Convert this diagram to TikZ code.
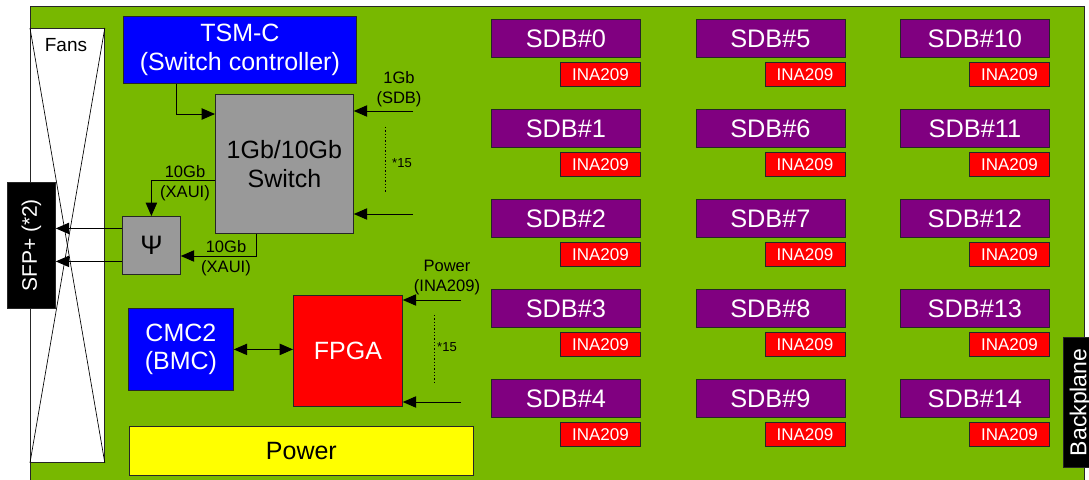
\documentclass[tikz,border=0pt]{standalone}
\usepackage{graphicx}
\usepackage{fontspec}
\setmainfont{Liberation Sans}
\usetikzlibrary{arrows.meta,calc}
\definecolor{boardgreen}{RGB}{120,184,0}
\definecolor{sdbpurple}{RGB}{128,0,128}
\definecolor{swgray}{RGB}{153,153,153}
\definecolor{tsmblue}{RGB}{0,0,255}
\definecolor{pwryellow}{RGB}{255,255,0}
\definecolor{inared}{RGB}{255,0,0}
\begin{document}
\begin{tikzpicture}[x=0.75pt,y=-0.75pt,
  blk/.style={draw=black!85,line width=0.6pt,inner sep=0pt,anchor=north west,align=center},
  bigf/.style={font=\fontsize{18.75}{21.5}\selectfont},
  sdbf/.style={font=\fontsize{19}{22}\selectfont},
  inaf/.style={font=\fontsize{12.75}{15}\selectfont},
  smallf/.style={font=\fontsize{12.4}{15}\selectfont,inner sep=0pt,align=center},
  tinyf/.style={font=\fontsize{9.75}{11}\selectfont,inner sep=0pt},
  sdbbox/.style={blk,fill=sdbpurple,text=white,sdbf,minimum width=111.75pt,minimum height=28.5pt},
  inabox/.style={blk,fill=inared,text=white,inaf,minimum width=60pt,minimum height=18pt},
  arr/.style={-{Triangle[length=10pt,width=8.5pt]},line width=0.75pt},
  darr/.style={{Triangle[length=10pt,width=8.5pt]}-{Triangle[length=10pt,width=8.5pt]},line width=0.75pt},
  dots/.style={line width=0.7pt,dash pattern=on 0.9pt off 1.6pt}
]
\useasboundingbox (0,0) rectangle (1089,479);
\begin{scope}
\clip (0,0) rectangle (1089,479);
% board
\node[blk,fill=boardgreen,minimum width=790.5pt,minimum height=370pt] (board) at (30,6) {};
% fans
\node[blk,fill=white,minimum width=55.5pt,minimum height=325.5pt] (fans) at (30,28) {};
\draw[line width=0.5pt] (fans.north west) -- (fans.south east);
\draw[line width=0.5pt] (fans.north east) -- (fans.south west);
\node[font=\fontsize{14.25}{17}\selectfont,inner sep=0pt] (fanslabel) at (66,45) {Fans};
% SFP
\node[blk,fill=black,text=white,font=\fontsize{15.75}{18}\selectfont,minimum width=36pt,minimum height=94.5pt] (sfp) at (7,182) {\rotatebox{90}{SFP+ (*2)}};
% backplane
\node[blk,fill=black,text=white,font=\fontsize{17.25}{20}\selectfont,minimum width=25.5pt,minimum height=97.5pt] (bp) at (1063,337) {\rotatebox{90}{Backplane}};
\end{scope}
% main blocks
\node[blk,fill=tsmblue,text=white,bigf,minimum width=174.75pt,minimum height=50.25pt] (tsm) at (123,16) {TSM-C\\(Switch controller)};
\node[blk,fill=swgray,bigf,minimum width=103.5pt,minimum height=104.25pt] (sw) at (215,94) {1Gb/10Gb\\Switch};
\node[blk,fill=swgray,font=\fontsize{20}{22}\selectfont,minimum width=43.5pt,minimum height=43.5pt] (psi) at (122,216) {Ψ};
\node[blk,fill=tsmblue,text=white,bigf,minimum width=78.75pt,minimum height=61.5pt] (cmc) at (128,308) {CMC2\\(BMC)};
\node[blk,fill=inared,text=white,bigf,minimum width=81.75pt,minimum height=83.25pt] (fpga) at (293,295) {FPGA};
\node[blk,fill=pwryellow,bigf,minimum width=258pt,minimum height=36.75pt] (pwr) at (129,426) {Power};
% SDB grid
\foreach \c in {0,1,2}{
  \foreach \r in {0,...,4}{
    \pgfmathtruncatemacro{\idx}{5*\c+\r}
    \pgfmathsetmacro{\xx}{491+204.5*\c}
    \pgfmathsetmacro{\yy}{19+90*\r}
    \node[sdbbox] (sdb\idx) at (\xx,\yy) {SDB\#\idx};
    \node[inabox] (ina\idx) at (\xx+69,\yy+43) {INA209};
  }
}
% TSM-C -> switch
\coordinate (tk) at (176,114);
\draw[arr] (tsm.south -| tk) |- (sw.west |- tk);
% 1Gb SDB links
\coordinate (sdbin1) at (413,111);
\coordinate (sdbin2) at (413,214);
\draw[arr] (sdbin1) -- (sw.east |- sdbin1);
\draw[arr] (sdbin2) -- (sw.east |- sdbin2);
\node[smallf] (lbl1gb) at (399,89) {1Gb\\(SDB)};
\draw[dots] (385,127) -- (385,193);
\node[tinyf] (n15a) at (402,163) {*15};
% switch -> psi (upper)
\coordinate (xa) at (152,180);
\draw[arr] (sw.west |- xa) -| (psi.north);
\node[smallf] (lblx1) at (185,183) {10Gb\\(XAUI)};
% switch -> psi (lower)
\coordinate (xb) at (256,256);
\draw[arr] (sw.south -| xb) |- (psi.east |- xb);
\node[smallf] (lblx2) at (226,258) {10Gb\\(XAUI)};
% psi -> SFP
\coordinate (p1) at ([yshift=12.75pt]psi.west);
\coordinate (p2) at ([yshift=-12pt]psi.west);
\draw[arr] (p1) -- (sfp.east |- p1);
\draw[arr] (p2) -- (sfp.east |- p2);
% CMC2 <-> FPGA
\draw[darr] (cmc.east) -- (fpga.west |- cmc.east);
% power monitoring -> FPGA
\coordinate (pin1) at (461,300);
\coordinate (pin2) at (461,402);
\draw[arr] (pin1) -- (fpga.east |- pin1);
\draw[arr] (pin2) -- (fpga.east |- pin2);
\node[smallf] (lblpw) at (447,278) {Power\\(INA209)};
\draw[dots] (434,315) -- (434,382);
\node[tinyf] (n15b) at (447,347) {*15};
\end{tikzpicture}
\end{document}
